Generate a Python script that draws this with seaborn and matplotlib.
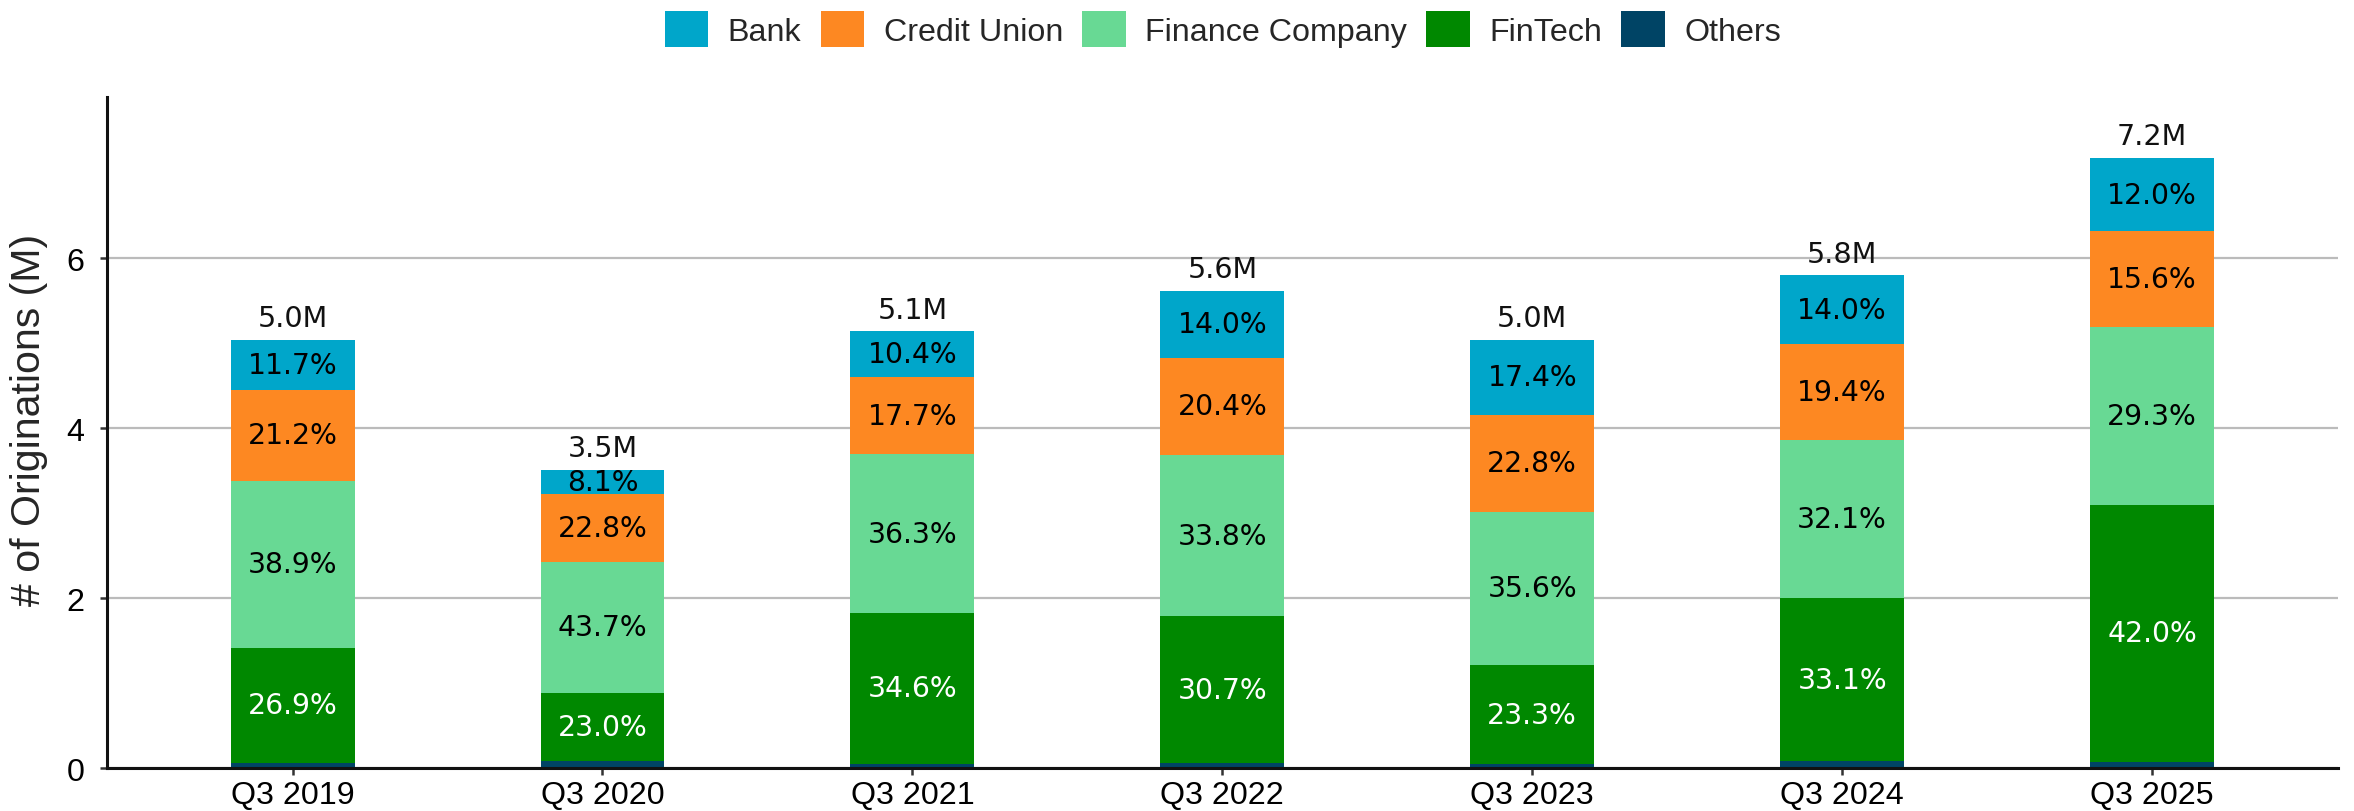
import matplotlib
matplotlib.use("Agg")
import matplotlib.pyplot as plt
from matplotlib.patches import Patch
import seaborn as sns
import pandas as pd
import numpy as np

# ---- data ----
quarters = ["Q3 2019", "Q3 2020", "Q3 2021", "Q3 2022", "Q3 2023", "Q3 2024", "Q3 2025"]
totals = [5.04, 3.51, 5.14, 5.62, 5.04, 5.80, 7.18]  # millions
others_pct = [1.3, 2.4, 1.0, 1.1, 0.9, 1.4, 1.1]
fintech_pct = [26.9, 23.0, 34.6, 30.7, 23.3, 33.1, 42.0]
finance_pct = [38.9, 43.7, 36.3, 33.8, 35.6, 32.1, 29.3]
credit_union_pct = [21.2, 22.8, 17.7, 20.4, 22.8, 19.4, 15.6]
bank_pct = [11.7, 8.1, 10.4, 14.0, 17.4, 14.0, 12.0]

# stacking order bottom -> top
segments = ["Others", "FinTech", "Finance Company", "Credit Union", "Bank"]
shares = {
    "Others": others_pct,
    "FinTech": fintech_pct,
    "Finance Company": finance_pct,
    "Credit Union": credit_union_pct,
    "Bank": bank_pct,
}
colors = {
    "Bank": "#00A6CA",
    "Credit Union": "#FD8822",
    "Finance Company": "#68D994",
    "FinTech": "#008800",
    "Others": "#004465",
}
text_colors = {
    "Bank": "black",
    "Credit Union": "black",
    "Finance Company": "black",
    "FinTech": "white",
}
legend_order = ["Bank", "Credit Union", "Finance Company", "FinTech", "Others"]

# ---- build table ----
tot = np.array(totals)
vals = {s: tot * np.array(shares[s]) / 100.0 for s in segments}
cum = {}
running = np.zeros(len(quarters))
bottoms = {}
for s in segments:
    bottoms[s] = running.copy()
    running = running + vals[s]
    cum[s] = running.copy()

df = pd.DataFrame({"quarter": quarters})
for s in segments:
    df[s + "_cum"] = cum[s]

# ---- style ----
sns.set_style("white")
plt.rcParams["font.family"] = ["Liberation Sans", "DejaVu Sans"]

fig = plt.figure(figsize=(11.77, 4.06), dpi=200)
ax = fig.add_axes([0.0453, 0.0526, 0.9479, 0.8268])

# draw from top of stack downwards so lower segments overlay the cumulative bars
for s in reversed(segments):
    sns.barplot(data=df, x="quarter", y=s + "_cum", color=colors[s], width=0.4,
                saturation=1, ax=ax, linewidth=0, edgecolor="none", zorder=2)

# percent labels
for s in segments:
    if s == "Others":
        continue
    for i, q in enumerate(quarters):
        yc = bottoms[s][i] + vals[s][i] / 2
        ax.text(i, yc, f"{shares[s][i]:.1f}%", ha="center", va="center",
                color=text_colors[s], fontsize=10.2, family="DejaVu Sans", zorder=5)

# totals
for i, q in enumerate(quarters):
    ax.annotate(f"{totals[i]:.1f}M", xy=(i, cum["Bank"][i]), xytext=(0, 5.0),
                textcoords="offset points", ha="center", va="baseline",
                fontsize=10.3, family="DejaVu Sans", color="#111111")

ax.set_xlim(-0.6, 6.6)
ax.set_ylim(0, 7.9)
ax.set_yticks([0, 2, 4, 6])
ax.set_xlabel("")
ax.set_ylabel("# of Originations (M)", fontsize=14.8, va="center")
ax.yaxis.set_label_coords(-0.0348, 0.52)

ax.yaxis.grid(True, color="#BBBBBB", linewidth=0.8)
ax.xaxis.grid(False)
ax.set_axisbelow(True)

for side in ["top", "right"]:
    ax.spines[side].set_visible(False)
for side in ["left", "bottom"]:
    ax.spines[side].set_color("#111111")
    ax.spines[side].set_linewidth(1.1)
    ax.spines[side].set_zorder(6)

ax.tick_params(axis="both", which="major", direction="out", length=2.6, width=0.9,
               color="#333333", labelsize=11.6, labelcolor="black")
ax.tick_params(axis="x", pad=1.5, bottom=True)
ax.tick_params(axis="y", pad=5.5, left=True)

handles = [Patch(facecolor=colors[s], edgecolor="none", label=s) for s in legend_order]
fig.legend(handles=handles, loc="center", bbox_to_anchor=(0.5195, 0.963), ncol=5,
           frameon=False, fontsize=11.6, handlelength=1.35, handleheight=1.35,
           handletextpad=0.6, columnspacing=0.6, borderpad=0)

fig.savefig("out.png", dpi=200)
